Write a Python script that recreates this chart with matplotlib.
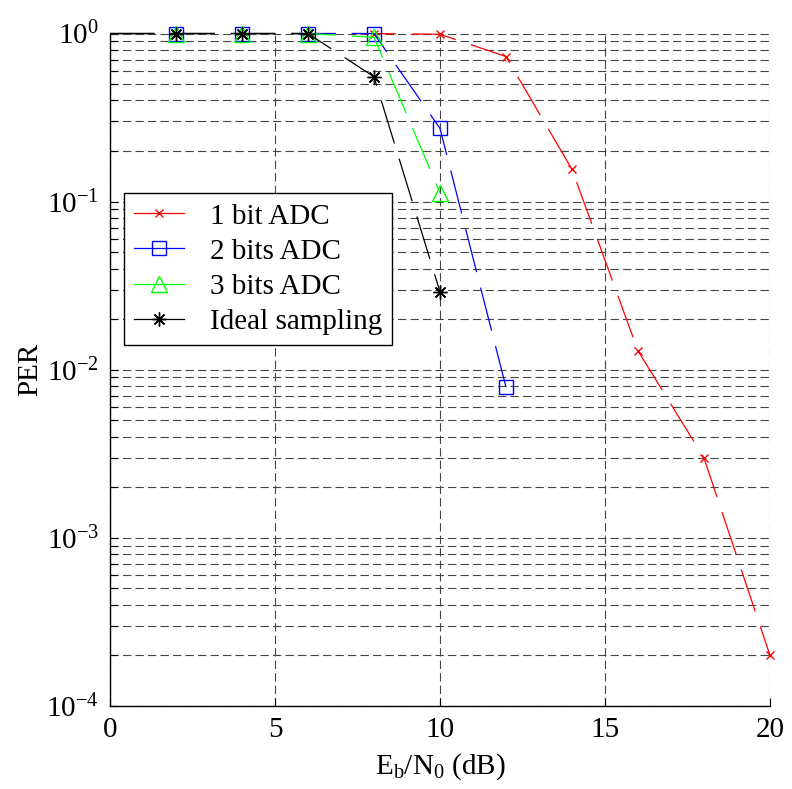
import matplotlib
matplotlib.use("Agg")
import matplotlib.pyplot as plt
from matplotlib.ticker import LogLocator, LogFormatterMathtext, NullFormatter, FixedLocator

plt.rcParams['font.family'] = ['Liberation Serif', 'DejaVu Serif']
plt.rcParams['mathtext.fontset'] = 'custom'
plt.rcParams['mathtext.rm'] = 'Liberation Serif'
plt.rcParams['mathtext.it'] = 'Liberation Serif:italic'
plt.rcParams['lines.scale_dashes'] = False

# Data
ebn0_1bit = [0, 2, 4, 6, 8, 10, 12, 14, 16, 18, 20]
per_1bit = [1, 1, 1, 1, 1, 0.99, 0.73, 0.156, 0.0130, 0.0030, 0.000201]
ebn0_2bit = [0, 2, 4, 6, 8, 10, 12]
per_2bit = [1, 1, 1, 1, 1, 0.273, 0.0079]
ebn0_3bit = [0, 2, 4, 6, 8, 10]
per_3bit = [1, 1, 1, 1, 0.95, 0.113]
ebn0_ideal = [0, 2, 4, 6, 8, 10]
per_ideal = [1, 1, 1, 1, 0.553, 0.0291]

labels = ['1 bit ADC', '2 bits ADC', '3 bits ADC', 'Ideal sampling']
xticks = [0, 5, 10, 15, 20]

FS = 21

fig = plt.figure(figsize=(7.92, 7.89), dpi=100)
ax = fig.add_axes([0.139, 0.1052, 0.833, 0.8523])

dash = (32, 11.5)
lw = 0.9
ax.plot(ebn0_1bit, per_1bit, color='#ff0000', lw=lw, dashes=dash, marker='x',
        ms=6, mew=1.0, markevery=slice(1, None), clip_on=False, label=labels[0], zorder=5)
ax.plot(ebn0_2bit, per_2bit, color='#0000ff', lw=lw, dashes=dash, marker='s',
        ms=10, mfc='none', mew=1.0, markevery=slice(1, None), clip_on=False, label=labels[1], zorder=5)
ax.plot(ebn0_3bit, per_3bit, color='#00ff00', lw=lw, dashes=dash, marker='^',
        ms=12, mfc='none', mew=1.0, markevery=slice(1, None), clip_on=False, label=labels[2], zorder=5)
ax.plot(ebn0_ideal, per_ideal, color='black', lw=lw, dashes=dash, marker=(8, 2, 0),
        ms=10, mew=1.0, markevery=slice(1, None), clip_on=False, label=labels[3], zorder=5)

ax.set_yscale('log')
ax.set_xlim(0, 20)
ax.set_ylim(1e-4, 1)
ax.xaxis.set_major_locator(FixedLocator(xticks))
ax.yaxis.set_major_locator(LogLocator(base=10, numticks=10))
ax.yaxis.set_minor_locator(LogLocator(base=10, subs=range(2, 10), numticks=20))
ax.yaxis.set_major_formatter(LogFormatterMathtext())
ax.yaxis.set_minor_formatter(NullFormatter())

for s in ['top', 'right']:
    ax.spines[s].set_visible(False)
for s in ['left', 'bottom']:
    ax.spines[s].set_linewidth(1.0)
    ax.spines[s].set_color('black')

ax.tick_params(axis='both', which='both', direction='in', length=6, width=0.8,
               labelsize=FS, pad=8, colors='black')
ax.tick_params(axis='y', which='minor', length=5)

gkw = dict(color='#444444', lw=0.8, dashes=(6, 3))
ax.grid(True, which='major', axis='x', **gkw)
ax.grid(True, which='both', axis='y', **gkw)
ax.set_axisbelow(True)

ax.set_xlabel(r'E$_\mathrm{b}$/N$_\mathrm{0}$ (dB)', fontsize=FS, labelpad=6)
ax.set_ylabel('PER', fontsize=FS)
ax.yaxis.set_label_coords(-0.1015, 0.5)

leg = ax.legend(loc='upper left', bbox_to_anchor=(0.021, 0.763), borderaxespad=0,
                fontsize=FS, frameon=True, fancybox=False, framealpha=1,
                edgecolor='black', handlelength=1.7, handletextpad=0.9,
                labelspacing=0.3, borderpad=0.35)
leg.get_frame().set_linewidth(1.0)
for h in leg.get_lines():
    h.set_linestyle('-')

fig.savefig('out.png', dpi=100)
